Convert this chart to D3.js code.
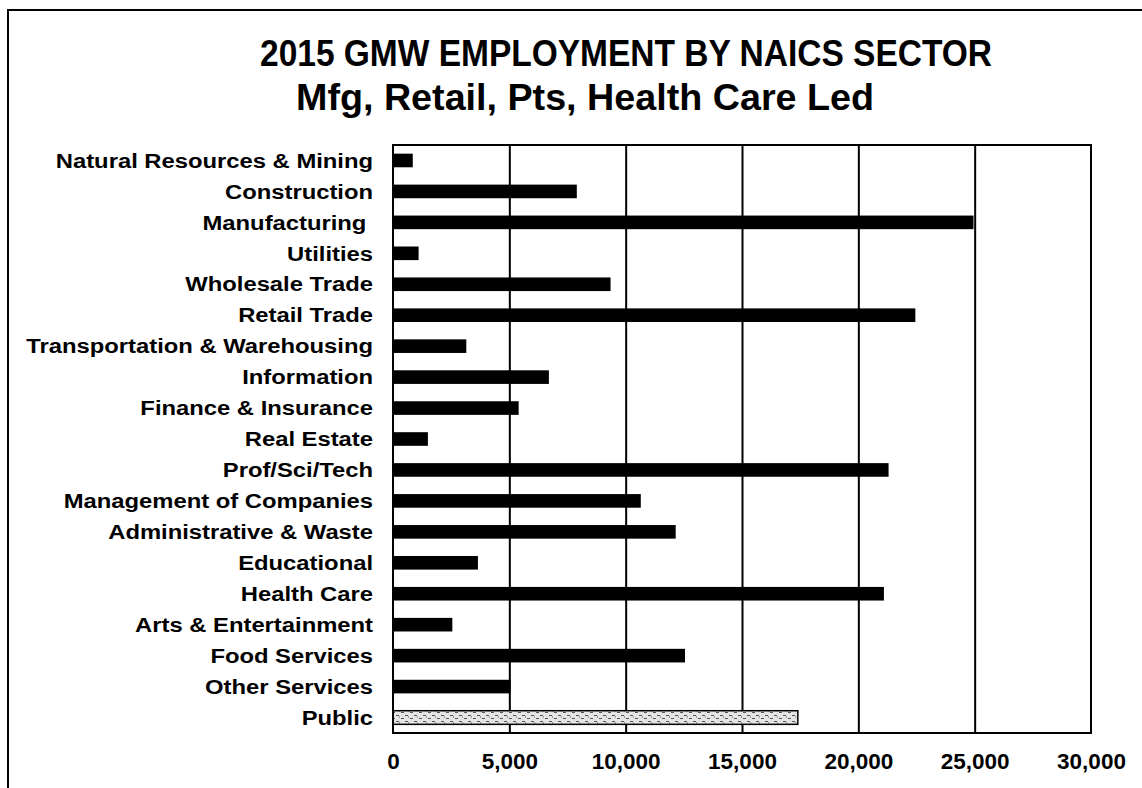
<!DOCTYPE html>
<html>
<head>
<meta charset="utf-8">
<script src="https://cdn.jsdelivr.net/npm/d3@7"></script>
<style>
  html, body { margin: 0; padding: 0; background: #fff; }
  svg { display: block; }
  text { font-family: "Liberation Sans", Arial, Helvetica, sans-serif; font-weight: bold; fill: #000; }
</style>
</head>
<body>
<svg id="chart" width="1142" height="788"></svg>
<script>
// NAICS sectors, top to bottom
const categories = [
  "Natural Resources & Mining",
  "Construction",
  "Manufacturing ",
  "Utilities",
  "Wholesale Trade",
  "Retail Trade",
  "Transportation & Warehousing",
  "Information",
  "Finance & Insurance",
  "Real Estate",
  "Prof/Sci/Tech",
  "Management of Companies",
  "Administrative & Waste",
  "Educational",
  "Health Care",
  "Arts & Entertainment",
  "Food Services",
  "Other Services",
  "Public"
];

// 2015 employment per sector
const employment = [
  850, 7900, 24950, 1100, 9350, 22450, 3150, 6700, 5400, 1500,
  21300, 10650, 12150, 3650, 21100, 2550, 12550, 5050, 17400
];

const tickValues = [0, 5000, 10000, 15000, 20000, 25000, 30000];

const titleLines = [
  "2015 GMW EMPLOYMENT BY NAICS SECTOR",
  "Mfg, Retail, Pts, Health Care Led"
];

const svg = d3.select("#chart");
const W = 1142, H = 788;
const plot = { left: 393, right: 1091, top: 145, bottom: 733 };

svg.append("rect").attr("width", W).attr("height", H).attr("fill", "#fff");

// speckled fill used for the public sector bar
const defs = svg.append("defs");
const pat = defs.append("pattern")
  .attr("id", "speckle")
  .attr("patternUnits", "userSpaceOnUse")
  .attr("width", 9).attr("height", 6);
pat.append("rect").attr("width", 9).attr("height", 6).attr("fill", "#e4e4e4");
pat.append("path").attr("d", "M0,1.5 H3 M5,4.5 H8 M3,3 H4").attr("stroke", "#555").attr("stroke-width", 1.2);

// page frame
svg.append("path")
  .attr("d", `M8,788 V10 H${W}`)
  .attr("fill", "none").attr("stroke", "#000").attr("stroke-width", 2);

const x = d3.scaleLinear().domain([0, 30000]).range([plot.left, plot.right]);
const y = d3.scaleBand().domain(categories)
  .range([plot.top, plot.bottom])
  .paddingInner(0.56).paddingOuter(0.28);

// vertical gridlines
const grid = svg.append("g")
  .attr("transform", `translate(0,${plot.bottom})`)
  .call(d3.axisBottom(x).tickValues(tickValues.slice(1, -1))
    .tickSize(-(plot.bottom - plot.top)).tickFormat(""));
grid.select(".domain").remove();
grid.selectAll("line").attr("stroke", "#000").attr("stroke-width", 2);

// bars
svg.append("g").selectAll("rect")
  .data(categories)
  .join("rect")
  .attr("x", x(0))
  .attr("y", d => y(d))
  .attr("width", (d, i) => x(employment[i]) - x(0))
  .attr("height", y.bandwidth())
  .attr("fill", d => d === "Public" ? "url(#speckle)" : "#000")
  .attr("stroke", "#000")
  .attr("stroke-width", d => d === "Public" ? 1.5 : 0);

// plot frame
svg.append("rect")
  .attr("x", plot.left).attr("y", plot.top)
  .attr("width", plot.right - plot.left).attr("height", plot.bottom - plot.top)
  .attr("fill", "none").attr("stroke", "#000").attr("stroke-width", 2);

// category axis
const yAxis = svg.append("g")
  .attr("transform", `translate(${plot.left},0)`)
  .call(d3.axisLeft(y).tickSize(0));
yAxis.select(".domain").remove();
const labelStretch = 1.19;
yAxis.selectAll("text")
  .attr("x", -20 / labelStretch)
  .attr("dy", "0.36em")
  .attr("transform", `scale(${labelStretch},1)`)
  .style("white-space", "pre")
  .style("font-size", "20px")
  .style("font-family", "'Liberation Sans', Arial, sans-serif")
  .style("font-weight", "bold")
  .attr("fill", "#000");

// value axis
const xAxis = svg.append("g")
  .attr("transform", `translate(0,${plot.bottom})`)
  .call(d3.axisBottom(x).tickValues(tickValues).tickSize(0).tickFormat(d3.format(",")));
xAxis.select(".domain").remove();
xAxis.selectAll("text")
  .attr("y", 36).attr("dy", 0)
  .style("font-size", "22.5px")
  .style("font-family", "'Liberation Sans', Arial, sans-serif")
  .style("font-weight", "bold")
  .attr("fill", "#000");

// two-line title, each line fitted to its own width
const titleLayout = [
  { cx: 626, base: 66, size: 36, len: 732 },
  { cx: 585, base: 110, size: 36, len: 578 }
];
svg.append("g").selectAll("text")
  .data(titleLines)
  .join("text")
  .attr("x", (d, i) => titleLayout[i].cx)
  .attr("y", (d, i) => titleLayout[i].base)
  .attr("text-anchor", "middle")
  .attr("textLength", (d, i) => titleLayout[i].len)
  .attr("lengthAdjust", "spacingAndGlyphs")
  .style("font-size", (d, i) => titleLayout[i].size + "px")
  .text(d => d);
</script>
</body>
</html>
